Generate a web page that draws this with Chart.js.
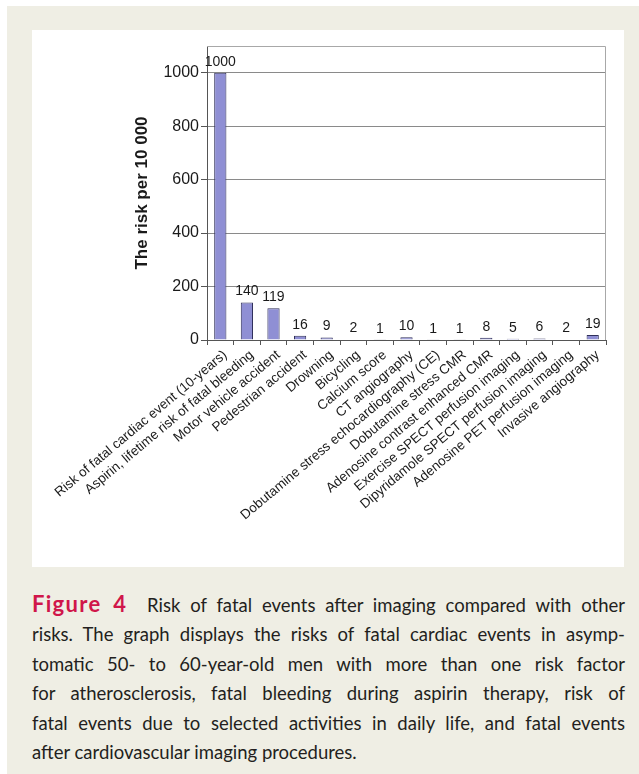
<!DOCTYPE html>
<html>
<head>
<meta charset="utf-8">
<script src="https://cdn.jsdelivr.net/npm/chart.js@4.4.1/dist/chart.umd.min.js"></script>
<style>
  body { margin: 0; background: #ffffff; width: 639px; height: 774px; overflow: hidden; position: relative; }
  #panel { position: absolute; left: 7px; top: 6px; width: 632px; height: 768px; background: #efeee4; }
  #chart_box { position: absolute; left: 32px; top: 30px; width: 592px; height: 537px; background: #ffffff; }
  #caption { position: absolute; left: 32px; top: 589px; width: 593px; font-family: Lato, "Open Sans", sans-serif; font-size: 18.5px; color: #231f20; line-height: 29.4px; }
  #caption .line { display: block; text-align: justify; text-align-last: justify; }
  #caption .line.last { text-align-last: left; }
  #caption b { color: #d0164a; font-size: 22px; letter-spacing: 1.3px; }
</style>
</head>
<body>
<div id="panel"></div>
<div id="chart_box"><canvas id="risk_chart" width="592" height="537"></canvas></div>
<div id="caption">
  <span class="line"><b>Figure 4</b>&nbsp; Risk of fatal events after imaging compared with other</span>
  <span class="line">risks. The graph displays the risks of fatal cardiac events in asymp-</span>
  <span class="line">tomatic 50- to 60-year-old men with more than one risk factor</span>
  <span class="line">for atherosclerosis, fatal bleeding during aspirin therapy, risk of</span>
  <span class="line">fatal events due to selected activities in daily life, and fatal events</span>
  <span class="line last">after cardiovascular imaging procedures.</span>
</div>
<script>

const categories = [
    "Risk of fatal cardiac event (10-years)",
    "Aspirin, lifetime risk of fatal bleeding",
    "Motor vehicle accident",
    "Pedestrian accident",
    "Drowning",
    "Bicycling",
    "Calcium score",
    "CT angiography",
    "Dobutamine stress echocardiography (CE)",
    "Dobutamine stress CMR",
    "Adenosine contrast enhanced CMR",
    "Exercise SPECT perfusion imaging",
    "Dipyridamole SPECT perfusion imaging",
    "Adenosine PET perfusion imaging",
    "Invasive angiography"
];

const risk_values = [1000, 140, 119, 16, 9, 2, 1, 10, 1, 1, 8, 5, 6, 2, 19];

const y_ticks = [0, 200, 400, 600, 800, 1000];
const y_max = 1100;

const y_title = "The risk per 10 000";

let barColor = '#8f8fd4';
let barBorderColor = '#30305a';
let textColor = '#1a1a1a';

// value labels above the bars
const valueLabels = {
    id: 'valueLabels',
    afterDatasetsDraw(chart){
        const ctx = chart.ctx;
        const meta = chart.getDatasetMeta(0);
        ctx.save();
        ctx.font = '14px "Liberation Sans", Arial, sans-serif';
        ctx.fillStyle = textColor;
        ctx.textAlign = 'center';
        ctx.textBaseline = 'bottom';
        meta.data.forEach((bar, i) => {
            ctx.fillText(String(risk_values[i]), bar.x, bar.y - 4);
        });
        ctx.restore();
    }
};

// light frame on top and right of the plot area
const plotFrame = {
    id: 'plotFrame',
    beforeDatasetsDraw(chart){
        const a = chart.chartArea;
        const ctx = chart.ctx;
        ctx.save();
        ctx.strokeStyle = '#a8a8a8';
        ctx.lineWidth = 1;
        ctx.beginPath();
        ctx.moveTo(a.left, a.top + 0.5);
        ctx.lineTo(a.right - 0.5, a.top + 0.5);
        ctx.lineTo(a.right - 0.5, a.bottom);
        ctx.stroke();
        ctx.restore();
    }
};

new Chart(risk_chart, {

    type: 'bar',
    data: {
        labels: categories,
        datasets: [{
            data: risk_values,
            backgroundColor: barColor,
            borderColor: barBorderColor,
            borderWidth: 1,
            categoryPercentage: 1,
            barPercentage: 0.46
        }]
    },
    options: {
        responsive: false,
        animation: false,
        layout: { padding: { top: 16, right: 18, left: 0, bottom: 0 } },
        plugins: { legend: { display: false }, tooltip: { enabled: false } },
        scales: {
            x: {
                afterFit(scale){ scale.height = 227; },
                border: { color: '#555', width: 1 },
                grid: { display: true, drawOnChartArea: false, offset: true, tickLength: 5, tickColor: '#555' },
                ticks: {
                    autoSkip: false,
                    maxRotation: 40,
                    minRotation: 40,
                    padding: 2,
                    labelOffset: 5,
                    color: textColor,
                    font: { family: '"Liberation Sans", Arial, sans-serif', size: 13.5 }
                }
            },
            y: {
                min: 0,
                max: y_max,
                afterFit(scale){ scale.width = 175; },
                afterBuildTicks(scale){ scale.ticks = y_ticks.map(v => ({ value: v })); },
                border: { color: '#555', width: 1 },
                grid: { color: '#8a8a8a', tickLength: 6, tickColor: '#555' },
                ticks: {
                    padding: 2,
                    color: textColor,
                    font: { family: '"Liberation Sans", Arial, sans-serif', size: 16 },
                    callback: value => String(value)
                },
                title: {
                    display: true,
                    text: y_title,
                    color: textColor,
                    padding: { top: 100, bottom: 0 },
                    font: { family: '"Liberation Sans", Arial, sans-serif', size: 17, weight: 'bold' }
                }
            }
        }
    },
    plugins: [valueLabels, plotFrame]

});

</script>
</body>
</html>
